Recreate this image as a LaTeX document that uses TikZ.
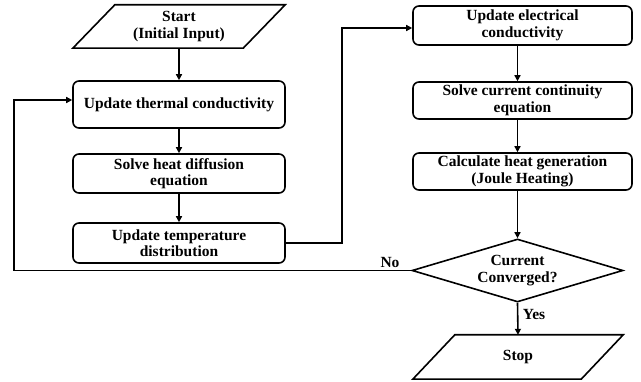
\documentclass[tikz,border=0pt]{standalone}
\usepackage{fontspec}
\setmainfont{Liberation Serif}
\usetikzlibrary{shapes.geometric,arrows.meta}
\begin{document}
\begin{tikzpicture}[x=1pt,y=-1pt,
  every node/.style={font=\fontsize{15.5}{16.5}\selectfont\bfseries, align=center, inner sep=0pt},
  box/.style={draw, line width=1.6pt, rounded corners=6pt, minimum width=212pt},
  rbox/.style={box, minimum width=219pt},
  conn/.style={line width=1.6pt, -{Triangle[length=6pt,width=6pt]}},
  plain/.style={line width=1.6pt, line join=miter}]
\useasboundingbox (0,0) rectangle (641,382);
% left column
\node (start) [minimum width=170pt, minimum height=43pt] at (179,26.5) {Start\\(Initial Input)};
\draw[plain] ([xshift=-21pt]start.south west) -- ([xshift=21pt]start.north west) -- ([xshift=21pt]start.north east) -- ([xshift=-21pt]start.south east) -- cycle;
\node[box, minimum height=47pt] (b1) at (179,104.5) {Update thermal conductivity};
\node[box, minimum height=39pt] (b2) at (179,173.5) {Solve heat diffusion\\equation};
\node[box, minimum height=40pt] (b3) at (179,243) {Update temperature\\distribution};
% right column
\node[rbox, minimum height=39pt] (b4) at (522.5,25.5) {Update electrical\\conductivity};
\node[rbox, minimum height=37pt] (b5) at (522.5,100.5) {Solve current continuity\\equation};
\node[rbox, minimum height=37pt] (b6) at (522.5,171.5) {Calculate heat generation\\(Joule Heating)};
\node[draw, diamond, line width=1.6pt, aspect=3.35, minimum width=211pt, minimum height=63pt] (dia) at (517.5,270.5) {Current\\Converged?};
\node (stop) [minimum width=168pt, minimum height=44pt] at (518,357) {Stop};
\draw[plain] ([xshift=-21pt]stop.south west) -- ([xshift=21pt]stop.north west) -- ([xshift=21pt]stop.north east) -- ([xshift=-21pt]stop.south east) -- cycle;
% connectors
\draw[conn] (start.south) -- (b1.north);
\draw[conn] (b1.south) -- (b2.north);
\draw[conn] (b2.south) -- (b3.north);
\draw[conn] (b3.east) -- ++(56,0) |- ([yshift=-2.5pt]b4.west);
\draw[conn] (b4.south -| dia.north) -- (b5.north -| dia.north);
\draw[conn] (b5.south -| dia.north) -- (b6.north -| dia.north);
\draw[conn] (b6.south -| dia.north) -- (dia.north);
\draw[conn] (dia.south) -- (stop.north);
\coordinate (lx) at (14,271);
\draw[conn] (dia.west) -- (dia.west -| lx) |- ([yshift=4.5pt]b1.west);
\node (no) at (390,263) {No};
\node (yes) at (534,315) {Yes};
\end{tikzpicture}
\end{document}
